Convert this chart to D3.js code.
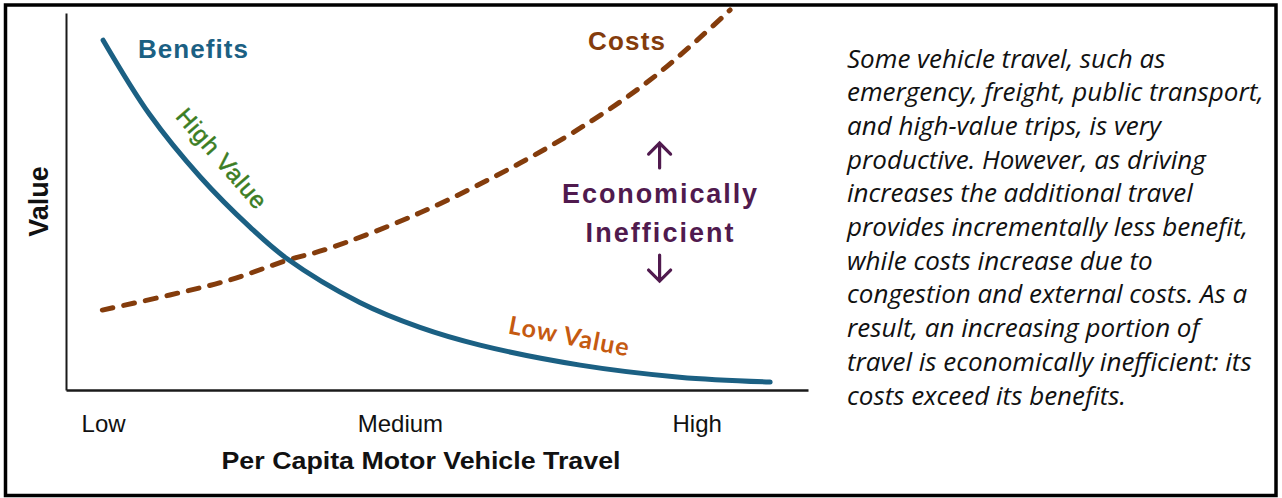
<!DOCTYPE html>
<html>
<head>
<meta charset="utf-8">
<script src="https://cdn.jsdelivr.net/npm/d3@7"></script>
<style>
  html, body { margin: 0; padding: 0; background: #fff; }
  svg { display: block; }
</style>
</head>
<body>
<svg id="chart" width="1282" height="498"></svg>
<script>
// ---- data (x: per-capita travel index 0-100, y: value index 0-100) ----
const benefitTravel = [5.0, 11.3, 18.1, 24.8, 29.8, 39.6, 47.7, 55.8, 69.3, 82.7, 94.9];
const benefitValues = [92.8, 73.0, 56.5, 43.2, 34.8, 23.2, 16.6, 11.9, 6.6, 3.4, 2.1];
const costTravel = [4.9, 14.0, 22.1, 29.8, 35.2, 47.7, 61.2, 71.0, 78.7, 85.4, 89.5];
const costValues = [21.2, 25.2, 29.2, 34.4, 37.4, 47.0, 60.2, 71.6, 82.2, 93.4, 100.8];
const tickValues = [5, 45, 85];
const tickLabels = ["Low", "Medium", "High"];
const xTitle = "Per Capita Motor Vehicle Travel";
const yTitle = "Value";
const noteLines = [
  "Some vehicle travel, such as",
  "emergency, freight, public transport,",
  "and high-value trips, is very",
  "productive. However, as driving",
  "increases the additional travel",
  "provides incrementally less benefit,",
  "while costs increase due to",
  "congestion and external costs. As a",
  "result, an increasing portion of",
  "travel is economically inefficient: its",
  "costs exceed its benefits."
];

// ---- layout ----
const svg = d3.select("#chart");
const plot = { left: 66, right: 808, top: 13, bottom: 390 };
const x = d3.scaleLinear().domain([0, 100]).range([plot.left, plot.right]);
const y = d3.scaleLinear().domain([0, 100]).range([plot.bottom, plot.top]);

svg.append("rect").attr("width", 1282).attr("height", 498).attr("fill", "#fff");

svg.append("defs").append("clipPath").attr("id", "frameClip")
  .append("rect").attr("x", 7).attr("y", 7).attr("width", 1266).attr("height", 484);

const line = d3.line().x(d => x(d[0])).y(d => y(d[1])).curve(d3.curveCatmullRom.alpha(0.5));
const sans = "Liberation Sans, Arial, sans-serif";

// axes
const xAxis = svg.append("g").attr("transform", `translate(0,${plot.bottom})`)
  .call(d3.axisBottom(x).tickValues(tickValues).tickFormat((d, i) => tickLabels[i]).tickSize(0).tickPadding(25));
xAxis.select(".domain").attr("stroke", "#1a1a1a").attr("stroke-width", 2.5);
xAxis.selectAll("text").attr("font-family", sans).attr("font-size", 24).attr("fill", "#111");

const yAxis = svg.append("g").attr("transform", `translate(${plot.left},0)`)
  .call(d3.axisLeft(y).tickValues([]).tickSize(0));
yAxis.select(".domain").attr("stroke", "#1a1a1a").attr("stroke-width", 2);

svg.append("text").attr("x", 421).attr("y", 469)
  .attr("text-anchor", "middle").attr("font-family", sans)
  .attr("font-weight", "bold").attr("font-size", 24).attr("fill", "#111")
  .attr("textLength", 399).attr("lengthAdjust", "spacingAndGlyphs").text(xTitle);

svg.append("text").attr("transform", `translate(48,${(plot.top + plot.bottom) / 2}) rotate(-90)`)
  .attr("text-anchor", "middle").attr("font-family", sans)
  .attr("font-weight", "bold").attr("font-size", 27).attr("fill", "#111").text(yTitle);

// curves
svg.append("path").datum(d3.zip(costTravel, costValues))
  .attr("clip-path", "url(#frameClip)")
  .attr("d", line).attr("fill", "none").attr("stroke", "#843c0c")
  .attr("stroke-width", 5).attr("stroke-dasharray", "11,11").attr("stroke-linecap", "round");

svg.append("path").datum(d3.zip(benefitTravel, benefitValues))
  .attr("d", line).attr("fill", "none").attr("stroke", "#1b6083")
  .attr("stroke-width", 5).attr("stroke-linecap", "round");

// labels (positioned in data units)
svg.append("text").attr("x", x(9.7)).attr("y", y(88.0)).attr("font-family", sans)
  .attr("font-weight", "bold").attr("font-size", 26).attr("fill", "#1b6083")
  .attr("textLength", 110).text("Benefits");
svg.append("text").attr("x", x(70.35)).attr("y", y(90.2)).attr("font-family", sans)
  .attr("font-weight", "bold").attr("font-size", 26).attr("fill", "#843c0c")
  .attr("textLength", 77).text("Costs");

svg.append("text").attr("transform", `translate(${x(21.0)},${y(61.5)}) rotate(49)`)
  .attr("text-anchor", "middle").attr("dominant-baseline", "central")
  .attr("font-family", sans).attr("font-size", 24).attr("fill", "#3b7d23")
  .attr("stroke", "#3b7d23").attr("stroke-width", 0.5)
  .attr("textLength", 124).text("High Value");

svg.append("text").attr("transform", `translate(${x(67.8)},${y(14.6)}) rotate(11)`)
  .attr("text-anchor", "middle").attr("dominant-baseline", "central")
  .attr("font-family", "Lato, sans-serif").attr("font-weight", "bold").attr("font-size", 25)
  .attr("fill", "#c55a11").attr("textLength", 122).text("Low Value");

const purple = "#501a4e";
svg.append("text").attr("x", x(80.0)).attr("y", y(49.6)).attr("text-anchor", "middle")
  .attr("font-family", sans).attr("font-weight", "bold").attr("font-size", 27)
  .attr("fill", purple).attr("textLength", 195).text("Economically");
svg.append("text").attr("x", x(80.0)).attr("y", y(39.3)).attr("text-anchor", "middle")
  .attr("font-family", sans).attr("font-weight", "bold").attr("font-size", 27)
  .attr("fill", purple).attr("textLength", 148).text("Inefficient");

function arrow(xv, tailV, tipV) {
  const dir = tipV > tailV ? 1 : -1;
  const tx = x(xv), tipY = y(tipV), tailY = y(tailV);
  const head = 11 * dir;
  svg.append("path")
    .attr("d", `M${tx},${tailY}L${tx},${tipY}M${tx - 11},${tipY + head}L${tx},${tipY}L${tx + 11},${tipY + head}`)
    .attr("fill", "none").attr("stroke", purple).attr("stroke-width", 3.2).attr("stroke-linecap", "round");
}
arrow(80.0, 58.9, 65.5);
arrow(80.0, 35.8, 28.9);

// note text
const note = svg.append("text").attr("font-family", "Open Sans, sans-serif").attr("font-style", "italic")
  .attr("font-size", 26).attr("fill", "#111");
noteLines.forEach((t, i) => {
  note.append("tspan").attr("x", 847).attr("y", 67.5 + i * 33.7).text(t);
});

// frame
svg.append("rect").attr("x", 5.5).attr("y", 5).attr("width", 1270.5).attr("height", 490.5)
  .attr("fill", "none").attr("stroke", "#000").attr("stroke-width", 3.5);
</script>
</body>
</html>
